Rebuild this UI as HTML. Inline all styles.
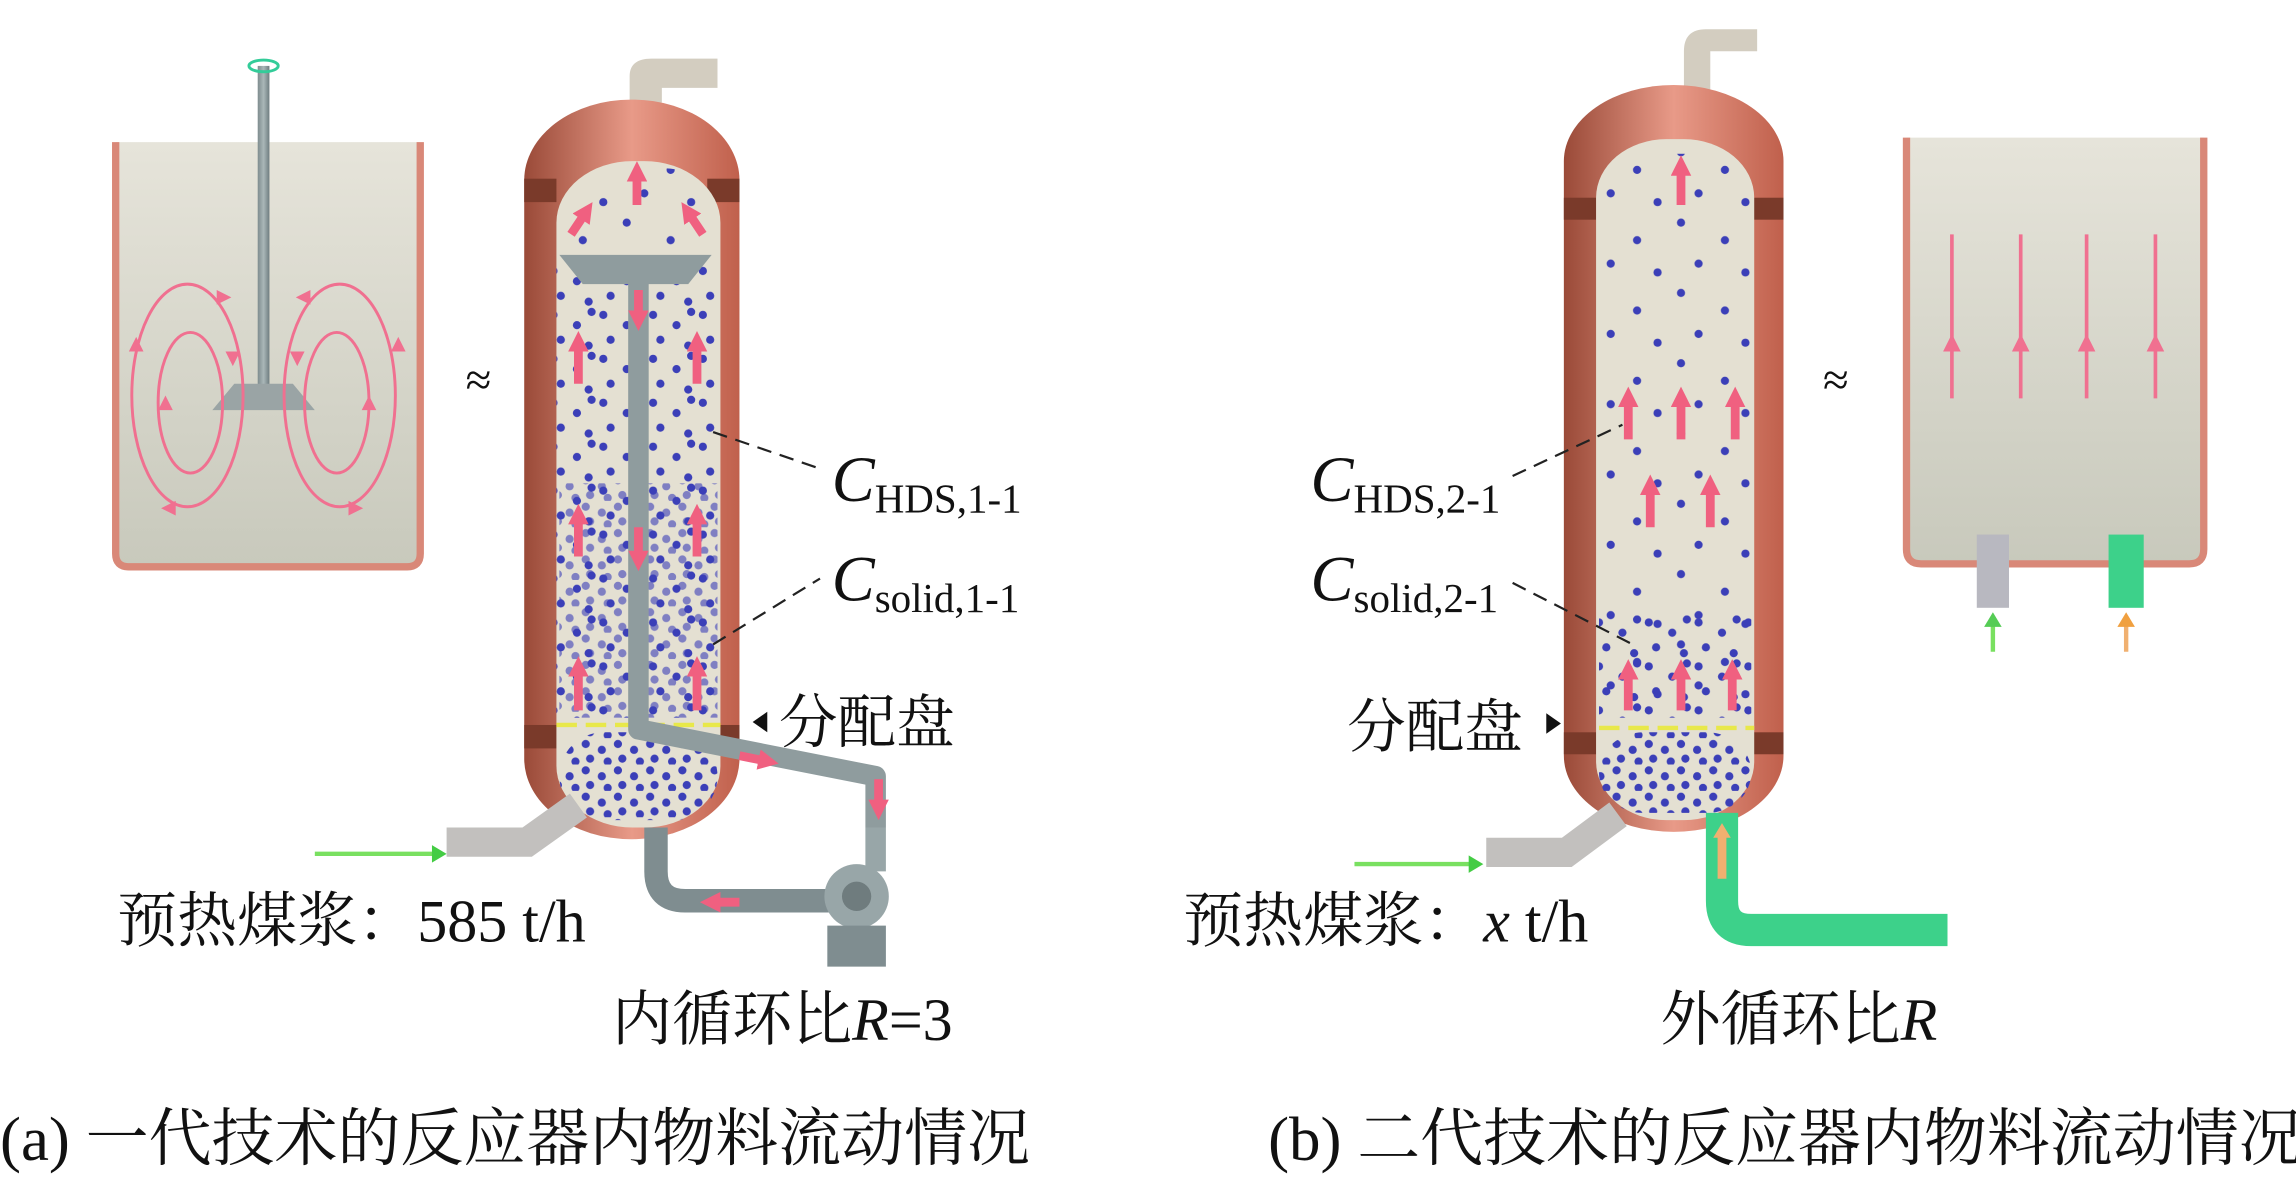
<!DOCTYPE html>
<html><head><meta charset="utf-8"><style>
html,body{margin:0;padding:0;background:#fff}
svg{display:block}
text{font-family:"Liberation Serif","Noto Serif CJK SC",serif;fill:#111}
</style></head><body>
<svg width="2296" height="1179" viewBox="0 0 1568 805" preserveAspectRatio="none" xmlns="http://www.w3.org/2000/svg">
<defs>
<linearGradient id="tank" x1="0" y1="0" x2="0" y2="1"><stop offset="0" stop-color="#e6e4da"/><stop offset="1" stop-color="#c8c9bc"/></linearGradient>
<linearGradient id="shell" x1="0" y1="0" x2="1" y2="0"><stop offset="0" stop-color="#9a4a38"/><stop offset=".5" stop-color="#e89a88"/><stop offset="1" stop-color="#c0604c"/></linearGradient>
<linearGradient id="pipe" x1="0" y1="0" x2="1" y2="0"><stop offset="0" stop-color="#7e8c8e"/><stop offset=".5" stop-color="#aab7b8"/><stop offset="1" stop-color="#6f7d80"/></linearGradient>
<pattern id="dots" width="34" height="30" patternUnits="userSpaceOnUse">
<circle cx="4" cy="5" r="2.8" fill="#3b3fb8"/><circle cx="20" cy="12" r="2.8" fill="#3b3fb8"/><circle cx="9" cy="22" r="2.8" fill="#3b3fb8"/><circle cx="28" cy="26" r="2.8" fill="#3b3fb8"/><circle cx="30" cy="3" r="2.8" fill="#3b3fb8"/>
</pattern>
<pattern id="dotsD" width="22" height="18" patternUnits="userSpaceOnUse">
<circle cx="4" cy="4" r="2.8" fill="#3b3fb8"/><circle cx="15" cy="8" r="2.8" fill="#3b3fb8"/><circle cx="7" cy="14" r="2.8" fill="#3b3fb8"/><circle cx="19" cy="16" r="2.8" fill="#3b3fb8"/>
</pattern>
<pattern id="dotsS" width="60" height="48" patternUnits="userSpaceOnUse">
<circle cx="8" cy="8" r="2.8" fill="#3b3fb8"/><circle cx="38" cy="20" r="2.8" fill="#3b3fb8"/><circle cx="20" cy="36" r="2.8" fill="#3b3fb8"/><circle cx="52" cy="42" r="2.8" fill="#3b3fb8"/>
</pattern>
<marker id="ah" markerUnits="userSpaceOnUse" markerWidth="14" markerHeight="14" refX="2" refY="7" orient="auto"><path d="M0,0 L14,7 L0,14z" fill="#f06080"/></marker>
</defs>

<!-- LEFT TANK -->
<path d="M79,97 V378 Q79,387 88,387 H278 Q287,387 287,378 V97" fill="url(#tank)" stroke="#d98878" stroke-width="5"/>
<rect x="176" y="45" width="8" height="225" fill="url(#pipe)"/>
<ellipse cx="180" cy="45" rx="10" ry="4" fill="none" stroke="#3c9" stroke-width="2"/>
<path d="M160,262 L200,262 L215,280 L145,280 Z" fill="#9aa4a5"/>
<g fill="none" stroke="#f07090" stroke-width="2">
<ellipse cx="128" cy="270" rx="38" ry="76"/><ellipse cx="130" cy="275" rx="22" ry="48"/>
<ellipse cx="232" cy="270" rx="38" ry="76"/><ellipse cx="230" cy="275" rx="22" ry="48"/>
</g>
<g fill="#f07090">
<path d="M88,240 l5,-10 l5,10z"/><path d="M148,198 l10,5 l-10,5z"/><path d="M154,240 l5,10 l5,-10z"/><path d="M108,280 l5,-10 l5,10z"/><path d="M120,342 l-10,5 l10,5z"/>
<path d="M267,240 l5,-10 l5,10z"/><path d="M212,198 l-10,5 l10,5z"/><path d="M198,240 l5,10 l5,-10z"/><path d="M247,280 l5,-10 l5,10z"/><path d="M238,342 l10,5 l-10,5z"/>
</g>
<text x="318" y="270" font-size="32">≈</text>

<!-- REACTOR A -->
<path d="M430,70 V52 Q430,40 445,40 H490 V60 H452 V70 Z" fill="#d3cdc0"/>
<rect x="358" y="68" width="147" height="505" rx="73" ry="55" fill="url(#shell)"/>
<rect x="358" y="122" width="22" height="16" fill="#7a3a2a"/><rect x="483" y="122" width="22" height="16" fill="#7a3a2a"/>
<rect x="358" y="495" width="22" height="16" fill="#7a3a2a"/><rect x="483" y="495" width="22" height="16" fill="#7a3a2a"/>
<rect x="380" y="110" width="112" height="455" rx="52" ry="42" fill="#e4e0d2"/>
<rect x="380" y="180" width="112" height="310" fill="url(#dots)"/>
<rect x="382" y="330" width="108" height="160" fill="url(#dotsD)" opacity=".6"/>
<rect x="382" y="500" width="108" height="60" rx="30" fill="url(#dotsD)"/>
<rect x="385" y="115" width="100" height="60" rx="30" fill="url(#dotsS)"/>
<g stroke="#e8e84a" stroke-width="3" stroke-dasharray="14,6"><line x1="380" y1="495" x2="492" y2="495"/></g>
<path d="M436,192 V498 L598,530 V565" fill="none" stroke="#8f9c9e" stroke-width="14" stroke-linejoin="round"/>
<path d="M382,174 H486 L470,194 H398 Z" fill="#8f9c9e"/>
<path d="M448,565 V595 Q448,615 468,615 H570" fill="none" stroke="#7f8d90" stroke-width="16"/>
<circle cx="585" cy="612" r="22" fill="#98a6a8"/><circle cx="585" cy="612" r="10" fill="#6f7c7e"/>
<rect x="565" y="632" width="40" height="28" fill="#7f8d90"/>
<line x1="598" y1="565" x2="598" y2="595" stroke="#98a6a8" stroke-width="14"/>
<path d="M305,575 H360 L395,550" fill="none" stroke="#c2c0be" stroke-width="20"/>
<line x1="215" y1="583" x2="298" y2="583" stroke="#79e060" stroke-width="3"/><path d="M295,577 l10,6 l-10,6z" fill="#4c4"/>
<g stroke="#f06080" stroke-width="6" marker-end="url(#ah)">
<line x1="435" y1="140" x2="435" y2="122"/>
<line x1="395" y1="262" x2="395" y2="238"/><line x1="476" y1="262" x2="476" y2="238"/>
<line x1="395" y1="380" x2="395" y2="356"/><line x1="476" y1="380" x2="476" y2="356"/>
<line x1="395" y1="485" x2="395" y2="460"/><line x1="476" y1="485" x2="476" y2="460"/>
<line x1="436" y1="198" x2="436" y2="214"/><line x1="436" y1="360" x2="436" y2="378"/>
<line x1="505" y1="516" x2="520" y2="519"/><line x1="600" y1="532" x2="600" y2="548"/>
<line x1="505" y1="616" x2="490" y2="616"/>
<line x1="390" y1="160" x2="398" y2="148"/><line x1="480" y1="160" x2="472" y2="148"/>
</g>
<g stroke="#222" stroke-width="1.5" stroke-dasharray="10,6" fill="none">
<line x1="487" y1="295" x2="560" y2="320"/><line x1="487" y1="440" x2="560" y2="395"/>
</g>
<text x="568" y="342" font-size="44" font-style="italic">C<tspan font-size="28" font-style="normal" dy="8">HDS,1-1</tspan></text>
<text x="568" y="410" font-size="44" font-style="italic">C<tspan font-size="28" font-style="normal" dy="8">solid,1-1</tspan></text>
<path d="M524,486 l-10,7 l10,7z" fill="#111"/>
<text x="532" y="507" font-size="40">分配盘</text>
<text x="80" y="643" font-size="41">预热煤浆：585 t/h</text>
<text x="418" y="710" font-size="41">内循环比<tspan font-style="italic">R</tspan>=3</text>
<text x="0" y="792" font-size="43">(a) 一代技术的反应器内物料流动情况</text>

<!-- REACTOR B -->
<path d="M1150,65 V35 Q1150,20 1165,20 H1200 V35 H1168 V65 Z" fill="#d3cdc0"/>
<rect x="1068" y="58" width="150" height="510" rx="75" ry="52" fill="url(#shell)"/>
<rect x="1068" y="135" width="22" height="15" fill="#7a3a2a"/><rect x="1196" y="135" width="22" height="15" fill="#7a3a2a"/>
<rect x="1068" y="500" width="22" height="15" fill="#7a3a2a"/><rect x="1196" y="500" width="22" height="15" fill="#7a3a2a"/>
<rect x="1090" y="95" width="108" height="465" rx="48" ry="40" fill="#e4e0d2"/>
<rect x="1092" y="105" width="104" height="380" fill="url(#dotsS)"/>
<rect x="1092" y="420" width="104" height="70" fill="url(#dots)"/>
<rect x="1092" y="500" width="104" height="55" rx="30" fill="url(#dotsD)"/>
<g stroke="#e8e84a" stroke-width="3" stroke-dasharray="14,6"><line x1="1092" y1="497" x2="1198" y2="497"/></g>
<path d="M1015,582 H1070 L1105,556" fill="none" stroke="#c2c0be" stroke-width="20"/>
<line x1="925" y1="590" x2="1005" y2="590" stroke="#79e060" stroke-width="3"/><path d="M1003,584 l10,6 l-10,6z" fill="#4c4"/>
<path d="M1176,555 V615 Q1176,635 1196,635 H1330" fill="none" stroke="#3dd18a" stroke-width="22"/>
<line x1="1176" y1="600" x2="1176" y2="570" stroke="#f0b070" stroke-width="6"/><path d="M1170,572 l6,-10 l6,10z" fill="#f0b070"/>
<g stroke="#f06080" stroke-width="6" marker-end="url(#ah)">
<line x1="1148" y1="140" x2="1148" y2="118"/>
<line x1="1112" y1="300" x2="1112" y2="276"/><line x1="1148" y1="300" x2="1148" y2="276"/><line x1="1185" y1="300" x2="1185" y2="276"/>
<line x1="1127" y1="360" x2="1127" y2="336"/><line x1="1168" y1="360" x2="1168" y2="336"/>
<line x1="1112" y1="485" x2="1112" y2="462"/><line x1="1148" y1="485" x2="1148" y2="462"/><line x1="1183" y1="485" x2="1183" y2="462"/>
</g>
<g stroke="#222" stroke-width="1.5" stroke-dasharray="10,6" fill="none">
<line x1="1033" y1="325" x2="1108" y2="290"/><line x1="1033" y1="398" x2="1115" y2="440"/>
</g>
<text x="895" y="342" font-size="44" font-style="italic">C<tspan font-size="28" font-style="normal" dy="8">HDS,2-1</tspan></text>
<text x="895" y="410" font-size="44" font-style="italic">C<tspan font-size="28" font-style="normal" dy="8">solid,2-1</tspan></text>
<text x="920" y="510" font-size="40">分配盘</text>
<path d="M1056,487 l10,7 l-10,7z" fill="#111"/>
<text x="808" y="643" font-size="41">预热煤浆：<tspan font-style="italic">x</tspan> t/h</text>
<text x="1134" y="710" font-size="41">外循环比<tspan font-style="italic">R</tspan></text>
<text x="866" y="792" font-size="43">(b) 二代技术的反应器内物料流动情况</text>

<text x="1245" y="270" font-size="32">≈</text>
<!-- RIGHT TANK -->
<path d="M1302,94 V375 Q1302,385 1312,385 H1495 Q1505,385 1505,375 V94" fill="url(#tank)" stroke="#d98878" stroke-width="5"/>
<g stroke="#f07090" stroke-width="2.5"><line x1="1333" y1="160" x2="1333" y2="272"/><line x1="1380" y1="160" x2="1380" y2="272"/><line x1="1425" y1="160" x2="1425" y2="272"/><line x1="1472" y1="160" x2="1472" y2="272"/></g>
<g fill="#f07090"><path d="M1327,240 l6,-12 l6,12z"/><path d="M1374,240 l6,-12 l6,12z"/><path d="M1419,240 l6,-12 l6,12z"/><path d="M1466,240 l6,-12 l6,12z"/></g>
<rect x="1350" y="365" width="22" height="50" fill="#b8b8c0"/>
<rect x="1440" y="365" width="24" height="50" fill="#3dd18a"/>
<line x1="1361" y1="445" x2="1361" y2="425" stroke="#79e060" stroke-width="3"/><path d="M1355,428 l6,-10 l6,10z" fill="#5c5"/>
<line x1="1452" y1="445" x2="1452" y2="425" stroke="#f0b070" stroke-width="3"/><path d="M1446,428 l6,-10 l6,10z" fill="#f0a040"/>
</svg>
</body></html>
